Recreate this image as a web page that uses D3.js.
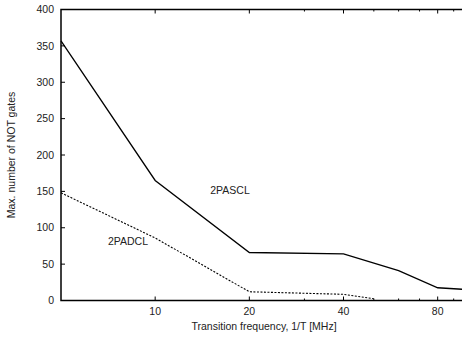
<!DOCTYPE html>
<html><head><meta charset="utf-8">
<script src="https://cdn.jsdelivr.net/npm/d3@7"></script>
<style>body{margin:0;background:#fff}svg{display:block}text{font-family:"Liberation Sans",Arial,sans-serif;fill:#222}</style>
</head><body>
<svg id="c" width="462" height="338"></svg>
<script>
const freqSCL = [5, 10, 20, 40, 60, 80, 100];
const gatesSCL = [357, 165, 66, 64, 41, 17.5, 15];
const freqDCL = [5, 10, 20, 40, 50];
const gatesDCL = [148, 86, 12, 8.5, 2.5];
const xMajor = [10, 20, 40, 80];
const xMinor = [30, 50, 60, 70, 90];
const yTicks = [0, 50, 100, 150, 200, 250, 300, 350, 400];

const svg = d3.select("#c");
const L = 61, R = 468, T = 9.5, B = 300.5;
const x = d3.scaleLog().domain([5, 100]).range([L, R]);
const y = d3.scaleLinear().domain([0, 400]).range([B, T]);

const g = svg.append("g");
g.append("rect").attr("x", L).attr("y", T).attr("width", R - L).attr("height", B - T)
  .attr("fill", "none").attr("stroke", "#000").attr("stroke-width", 1.5);

yTicks.forEach(v => {
  g.append("line").attr("x1", L).attr("x2", L + 4).attr("y1", y(v)).attr("y2", y(v)).attr("stroke", "#000");
  g.append("text").attr("x", 54).attr("y", y(v)).attr("dy", "0.35em").attr("text-anchor", "end")
    .attr("font-size", 10.5).text(v);
});
xMajor.forEach(v => {
  g.append("line").attr("x1", x(v)).attr("x2", x(v)).attr("y1", B).attr("y2", B - 4).attr("stroke", "#000");
  g.append("line").attr("x1", x(v)).attr("x2", x(v)).attr("y1", T).attr("y2", T + 4).attr("stroke", "#000");
  g.append("text").attr("x", x(v)).attr("y", 315).attr("text-anchor", "middle").attr("font-size", 10.5).text(v);
});
xMinor.forEach(v => {
  g.append("line").attr("x1", x(v)).attr("x2", x(v)).attr("y1", B).attr("y2", B - 2).attr("stroke", "#000");
  g.append("line").attr("x1", x(v)).attr("x2", x(v)).attr("y1", T).attr("y2", T + 2).attr("stroke", "#000");
});

const line = d3.line().x(d => x(d[0])).y(d => y(d[1]));
g.append("path").datum(freqSCL.map((f, i) => [f, gatesSCL[i]])).attr("d", line)
  .attr("fill", "none").attr("stroke", "#000").attr("stroke-width", 1.3);
g.append("path").datum(freqDCL.map((f, i) => [f, gatesDCL[i]])).attr("d", line)
  .attr("fill", "none").attr("stroke", "#000").attr("stroke-width", 1.1).attr("stroke-dasharray", "2,1.5");

g.append("text").attr("x", 230).attr("y", 194).attr("text-anchor", "middle").attr("font-size", 10.5).text("2PASCL");
g.append("text").attr("x", 128).attr("y", 245).attr("text-anchor", "middle").attr("font-size", 10.5).text("2PADCL");

g.append("text").attr("x", 264).attr("y", 330).attr("text-anchor", "middle").attr("font-size", 10.5)
  .text("Transition frequency, 1/T [MHz]");
g.append("text").attr("transform", "translate(15,155) rotate(-90)").attr("text-anchor", "middle")
  .attr("font-size", 10.5).text("Max. number of NOT gates");
</script>
</body></html>
